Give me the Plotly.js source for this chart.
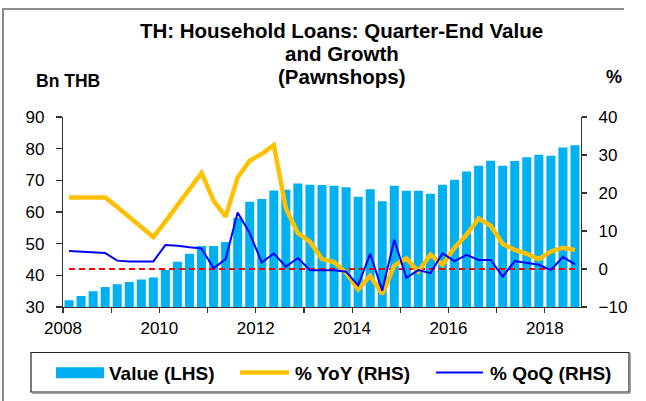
<!DOCTYPE html>
<html>
<head>
<meta charset="utf-8">
<script src="https://cdn.plot.ly/plotly-3.0.1.min.js"></script>
<style>
  html, body { margin: 0; padding: 0; background: #fff; }
  #wrap { position: relative; width: 646px; height: 401px; overflow: hidden; }
  #chart { width: 646px; height: 401px; }
  #frame { position: absolute; left: 2px; top: 8px; width: 620px; height: 400px;
           border-left: 2px solid #8a8a8a; border-top: 2px solid #8a8a8a; pointer-events: none; }
</style>
</head>
<body>
<div id="wrap">
  <div id="chart"></div>
  <div id="frame"></div>
</div>
<script>
// ---- Data ----
const quarters = [
  "2008Q1","2008Q2","2008Q3","2008Q4","2009Q1","2009Q2","2009Q3","2009Q4",
  "2010Q1","2010Q2","2010Q3","2010Q4","2011Q1","2011Q2","2011Q3","2011Q4",
  "2012Q1","2012Q2","2012Q3","2012Q4","2013Q1","2013Q2","2013Q3","2013Q4",
  "2014Q1","2014Q2","2014Q3","2014Q4","2015Q1","2015Q2","2015Q3","2015Q4",
  "2016Q1","2016Q2","2016Q3","2016Q4","2017Q1","2017Q2","2017Q3","2017Q4",
  "2018Q1","2018Q2","2018Q3"
];
const valueBn = [
  32.1, 33.5, 35.0, 36.3, 37.2, 37.9, 38.7, 39.3,
  41.7, 44.3, 46.8, 49.3, 49.3, 50.5, 58.2, 63.2,
  64.1, 66.8, 67.0, 69.0, 68.6, 68.5, 68.3, 67.8,
  64.8, 67.2, 63.4, 68.3, 66.7, 66.7, 65.8, 68.6,
  70.2, 72.8, 74.6, 76.2, 74.6, 76.1, 77.3, 78.1,
  77.8, 80.4, 81.1
];
const yoyPct = [
  18.8, 18.8, 18.9, 18.8, 16.3, 13.7, 11.2, 8.4,
  12.5, 16.7, 20.9, 25.3, 18.0, 13.8, 24.1, 28.5,
  30.3, 32.6, 16.0, 9.4, 7.2, 2.6, 1.8, -1.0,
  -5.4, -1.8, -6.6, 0.9, 2.8, -0.7, 3.8, 1.1,
  5.6, 9.0, 13.3, 11.4, 6.6, 5.0, 4.0, 2.6,
  4.6, 5.6, 5.0
];
const qoqPct = [
  4.75, 4.6, 4.4, 4.2, 2.2, 2.0, 2.0, 2.0,
  6.3, 6.1, 5.7, 5.4, 0.2, 2.6, 14.9, 9.4,
  1.7, 4.1, 0.6, 2.9, -0.3, -0.3, -0.3, -0.7,
  -4.3, 4.0, -5.7, 7.7, -2.3, -0.3, -1.1, 4.1,
  2.1, 3.7, 2.4, 2.4, -2.0, 2.1, 1.5, 1.1,
  -0.3, 3.2, 1.2
];
const zeroRef = quarters.map(() => 0);
const yearTicks = [2008,2009,2010,2011,2012,2013,2014,2015,2016,2017,2018];
const yearLabels = ["2008","","2010","","2012","","2014","","2016","","2018"];
const titleLines = ["TH: Household Loans: Quarter-End Value", "and Growth", "(Pawnshops)"];
const legendNames = ["Value (LHS)", "% YoY (RHS)", "% QoQ (RHS)"];

// quarter label -> position on a continuous year axis (middle of quarter)
const xq = quarters.map(q => {
  const y = parseInt(q.slice(0,4), 10), n = parseInt(q.slice(5), 10);
  return y + (n - 0.5) / 4;
});

const FONT = "Liberation Sans, Arial, sans-serif";
const BLUE_BAR = "#00B0F0", ORANGE = "#FFC000", BLUE = "#0000FF", RED = "#FF0000";

// plot area in pixels
const L = 63, R = 65, T = 117, B = 94, W = 646, H = 401;
const PW = W - L - R, PH = H - T - B;
const px = x => (x - L) / PW;
const py = y => (H - B - y) / PH;

const traces = [
  { type: "bar", x: xq, y: valueBn, yaxis: "y", name: legendNames[0],
    marker: { color: BLUE_BAR, line: { width: 0 } }, showlegend: false, hoverinfo: "x+y" },
  { type: "scatter", mode: "lines", x: xq, y: zeroRef, yaxis: "y2", name: "0",
    line: { color: RED, width: 2.2, dash: "6px,4px" }, showlegend: false, hoverinfo: "skip" },
  { type: "scatter", mode: "lines", x: xq, y: yoyPct, yaxis: "y2", name: legendNames[1],
    line: { color: ORANGE, width: 4.5, shape: "linear" }, showlegend: false },
  { type: "scatter", mode: "lines", x: xq, y: qoqPct, yaxis: "y2", name: legendNames[2],
    line: { color: BLUE, width: 2 }, showlegend: false }
];

const axisCommon = {
  showgrid: false, zeroline: false, showline: true, linecolor: "#333", linewidth: 1.2,
  ticks: "outside", tickcolor: "#333", tickwidth: 1.2,
  tickfont: { family: FONT, size: 17, color: "#000" }
};

const shapes = [
  // legend box
  { type: "rect", xref: "paper", yref: "paper", x0: px(31), x1: px(629), y0: py(392), y1: py(352.5),
    line: { color: "#222", width: 1.2 }, fillcolor: "rgba(0,0,0,0)" },
  { type: "line", xref: "paper", yref: "paper", x0: px(32), x1: px(630), y0: py(393), y1: py(393),
    line: { color: "#888", width: 1.5 } },
  { type: "line", xref: "paper", yref: "paper", x0: px(630), x1: px(630), y0: py(353), y1: py(393),
    line: { color: "#888", width: 1.5 } },
  // legend swatches
  { type: "rect", xref: "paper", yref: "paper", x0: px(56), x1: px(104), y0: py(378.3), y1: py(367.3),
    line: { width: 0 }, fillcolor: BLUE_BAR },
  { type: "line", xref: "paper", yref: "paper", x0: px(240), x1: px(289), y0: py(372.5), y1: py(372.5),
    line: { color: ORANGE, width: 4.5 } },
  { type: "line", xref: "paper", yref: "paper", x0: px(436), x1: px(483), y0: py(372.5), y1: py(372.5),
    line: { color: BLUE, width: 2 } }
];

const ann = (text, x, y, size, anchor) => ({
  text: "<b>" + text + "</b>", xref: "paper", yref: "paper", x: px(x), y: py(y),
  xanchor: anchor || "center", yanchor: "middle", showarrow: false,
  font: { family: FONT, size: size, color: "#000" }
});

const annotations = [
  ann(titleLines[1], 341.5, 53.5, 20.5),
  ann(titleLines[2], 341.5, 76, 20.5),
  ann("Bn THB", 67.5, 80.5, 17.5),
  ann("%", 614, 77, 18),
  ann(legendNames[0], 107, 373, 19, "left"),
  ann(legendNames[1], 293, 373, 19, "left"),
  ann(legendNames[2], 488, 373, 19, "left")
];

const layout = {
  width: W, height: H,
  margin: { l: L, r: R, t: T, b: B, pad: 0 },
  paper_bgcolor: "#fff", plot_bgcolor: "#fff",
  title: { text: "<b>" + titleLines[0] + "</b>", x: px(341.5), xref: "paper", xanchor: "center",
           y: 1 - 31 / H, yref: "container", yanchor: "middle",
           font: { family: FONT, size: 20.5, color: "#000" } },
  showlegend: false,
  bargap: 0.25,
  xaxis: Object.assign({}, axisCommon, {
    range: [2008, 2018.75], tickmode: "array", tickvals: yearTicks, ticktext: yearLabels,
    ticklen: 5, anchor: "y"
  }),
  yaxis: Object.assign({}, axisCommon, {
    range: [30, 90], dtick: 10, tick0: 30, ticklen: 6, ticklabelstandoff: 8
  }),
  yaxis2: Object.assign({}, axisCommon, {
    range: [-10, 40], dtick: 10, tick0: -10, ticklen: 5, overlaying: "y", side: "right",
    ticklabelstandoff: 8
  }),
  shapes: shapes,
  annotations: annotations
};

Plotly.newPlot("chart", traces, layout, { staticPlot: true, displayModeBar: false });
</script>
</body>
</html>
